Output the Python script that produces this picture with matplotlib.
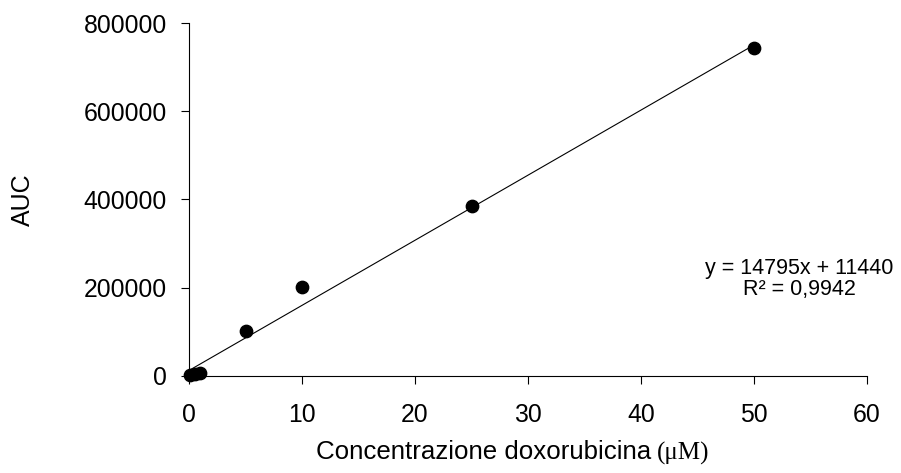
import numpy as np
import matplotlib
matplotlib.use('Agg')
import matplotlib.pyplot as plt

# concentrations (uM) and measured AUC
conc = [0.1, 0.5, 1, 5, 10, 25, 50]
auc = [1500, 3000, 5000, 102000, 202000, 386000, 744000]

# linear fit reported on the chart
slope = 14795
intercept = 11440
r2_text = '0,9942'

x_ticks = [0, 10, 20, 30, 40, 50, 60]
y_ticks = [0, 200000, 400000, 600000, 800000]

plt.rcParams['font.family'] = ['Liberation Sans', 'DejaVu Sans']

fig = plt.figure(figsize=(9.01, 4.73), dpi=100)
ax = fig.add_axes([189 / 901, 1 - 375.5 / 473, 678 / 901, 352 / 473])

fit_x = np.array([0, 50])
ax.plot(fit_x, slope * fit_x + intercept, color='black', lw=0.8, clip_on=False)
ax.plot(conc, auc, 'o', color='black', ms=8.9, clip_on=False, zorder=3)

ax.set_xlim(0, 60)
ax.set_ylim(0, 800000)
ax.set_xticks(x_ticks)
ax.set_yticks(y_ticks)
ax.tick_params(direction='out', length=6, width=0.8, labelsize=17.8)
ax.tick_params(axis='y', pad=10)
ax.tick_params(axis='x', pad=14)

for side in ['top', 'right']:
    ax.spines[side].set_visible(False)
for side in ['left', 'bottom']:
    ax.spines[side].set_linewidth(0.8)

fig.text(23 / 901, 1 - 200 / 473, 'AUC', rotation=90, ha='center', va='center',
         fontsize=18)

# x label: sans text followed by serif unit
fig.text(651 / 901, 1 - 459 / 473, 'Concentrazione doxorubicina', ha='right',
         va='baseline', fontsize=18.6)
fig.text(657 / 901, 1 - 460 / 473, '(\u03bcM)', ha='left', va='baseline',
         fontsize=18, family=['Liberation Serif', 'DejaVu Serif'])

ax.text(0.9, 0.305, 'y = %dx + %d' % (slope, intercept), transform=ax.transAxes,
        ha='center', va='center', fontsize=15.5)
ax.text(0.9, 0.244, 'R\u00b2 = ' + r2_text, transform=ax.transAxes,
        ha='center', va='center', fontsize=15.5)

fig.savefig('out.png', dpi=100)
